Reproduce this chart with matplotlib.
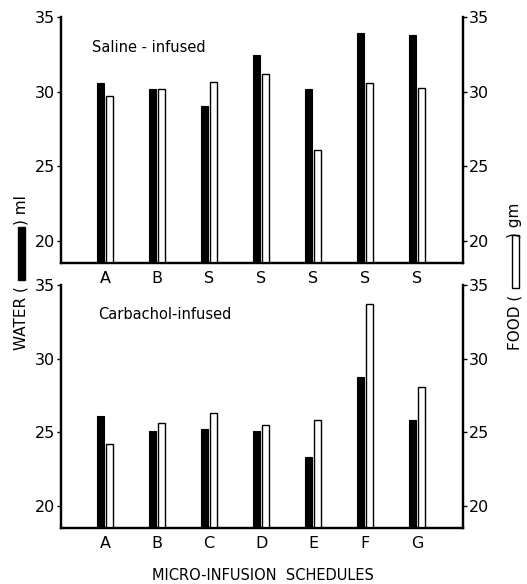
import numpy as np
import matplotlib
matplotlib.use("Agg")
import matplotlib.pyplot as plt
from matplotlib.patches import Rectangle

# data
saline_labels = ["A", "B", "S", "S", "S", "S", "S"]
saline_water = [30.55, 30.15, 29.05, 32.45, 30.2, 33.9, 33.8]
saline_food = [29.7, 30.15, 30.65, 31.15, 26.1, 30.6, 30.25]

carb_labels = ["A", "B", "C", "D", "E", "F", "G"]
carb_water = [26.1, 25.1, 25.2, 25.1, 23.35, 28.75, 25.85]
carb_food = [24.2, 25.6, 26.3, 25.5, 25.8, 33.7, 28.05]

plt.rcParams['font.family'] = ['DejaVu Sans']
plt.rcParams['font.size'] = 11

fig = plt.figure(figsize=(5.27, 5.84), dpi=100)
ax_top = fig.add_axes([0.1157, 0.5497, 0.7628, 0.4212])
ax_bot = fig.add_axes([0.1157, 0.0959, 0.7628, 0.4161])

W = 0.135
OFF = 0.087


def panel(ax, labels, water, food, title, tx, ty):
    x = np.arange(1, len(labels) + 1)
    ax2 = ax.twinx()
    ax.bar(x - OFF, water, width=W, color='black', edgecolor='black', linewidth=0.8)
    ax2.bar(x + OFF, food, width=W, color='white', edgecolor='black', linewidth=1.0)
    for a in (ax, ax2):
        a.set_ylim(18.5, 35)
        a.set_xlim(0.15, 7.88)
        a.set_yticks([20, 25, 30, 35])
        a.spines['top'].set_visible(False)
        for s in a.spines.values():
            s.set_linewidth(1.6)
        a.tick_params(axis='y', direction='out', length=3, width=1, labelsize=11.5, pad=1)
    ax.set_xticks(x)
    ax.set_xticklabels(labels)
    ax.tick_params(axis='x', length=0, pad=6, labelsize=11.5)
    ax.text(tx, ty, title, transform=ax.transAxes, ha='left', va='center', fontsize=10.5)


panel(ax_top, saline_labels, saline_water, saline_food, "Saline - infused", 0.077, 0.874)
panel(ax_bot, carb_labels, carb_water, carb_food, "Carbachol-infused", 0.092, 0.877)

fig.text(0.499, 0.0154, "MICRO-INFUSION  SCHEDULES", ha='center', va='center', fontsize=10.5)

# left axis label with solid bar symbol
fig.text(0.040, 0.4007, "WATER (", rotation=90, ha='center', va='bottom', fontsize=11)
fig.patches.append(Rectangle((0.0342, 0.5205), 0.0133, 0.0908, transform=fig.transFigure,
                             facecolor='black', edgecolor='black'))
fig.text(0.040, 0.6147, ") ml", rotation=90, ha='center', va='bottom', fontsize=11)

# right axis label with open bar symbol
fig.text(0.977, 0.4007, "FOOD (", rotation=90, ha='center', va='bottom', fontsize=11)
fig.patches.append(Rectangle((0.9715, 0.5068), 0.0132, 0.0908, transform=fig.transFigure,
                             facecolor='white', edgecolor='black', linewidth=1))
fig.text(0.977, 0.5925, ") gm", rotation=90, ha='center', va='bottom', fontsize=11)

fig.savefig("out.png", dpi=100)
